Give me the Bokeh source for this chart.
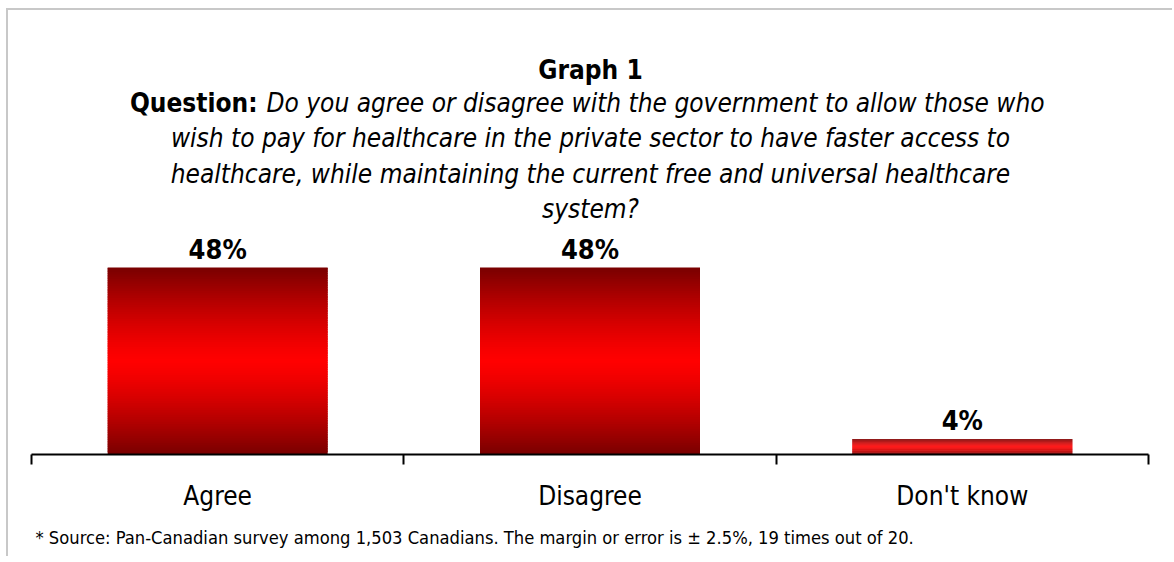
import numpy as np
from bokeh.plotting import figure
from bokeh.models import Range1d, LinearAxis, FixedTicker, Label, ColumnDataSource, Title
from bokeh.core.properties import value
from bokeh.embed import file_html
from bokeh.resources import INLINE

# ---------------- data ----------------
categories = ["Agree", "Disagree", "Don't know"]
percentages = [48, 48, 4]
value_labels = ["48%", "48%", "4%"]
title_text = "Graph 1"
question_label = "Question:"
question_lines = [
    "Do you agree or disagree with the government to allow those who",
    "wish to pay for healthcare in the private sector to have faster access to",
    "healthcare, while maintaining the current free and universal healthcare",
    "system?",
]
footnote = ("* Source: Pan-Canadian survey among 1,503 Canadians. "
            "The margin or error is \u00b1 2.5%, 19 times out of 20.")

# ---------------- layout helpers (page pixels -> data) ----------------
FONT = "DejaVu Sans Condensed, DejaVu Sans, sans-serif"
AX_LEFT = 31.0
AX_RIGHT = 1148.0
PX_PER_CAT = (AX_RIGHT - AX_LEFT) / len(categories)
AX_Y = 454.0
PX_PER_PCT = (AX_Y - 267.0) / 48.0
MARGIN_X, MARGIN_Y, BORDER = 6, 8, 2
CANVAS_X0, CANVAS_Y0 = MARGIN_X + BORDER, MARGIN_Y + BORDER
W, H = 1166, 548


def xd(px):
    return (px - AX_LEFT) / PX_PER_CAT


def yd(py):
    return (AX_Y - py) / PX_PER_PCT


frame_h = AX_Y - CANVAS_Y0
p = figure(width=W, height=H, output_backend="svg", toolbar_location=None,
           x_range=Range1d(xd(CANVAS_X0), xd(CANVAS_X0 + W)),
           y_range=Range1d(0, yd(CANVAS_Y0)),
           x_axis_type=None, y_axis_type=None,
           min_border_left=0, min_border_right=0, min_border_top=0,
           min_border_bottom=int(round(H - frame_h)))
p.outline_line_color = None
p.xgrid.visible = False
p.ygrid.visible = False
p.background_fill_color = "white"
p.border_fill_color = "white"
p.styles = {"margin-left": f"{MARGIN_X}px", "margin-top": f"{MARGIN_Y}px",
            "border-top": f"{BORDER}px solid #c8c8c8",
            "border-left": f"{BORDER}px solid #c8c8c8"}

# ---------------- gradient bars ----------------
centers = [i + 0.5 for i in range(len(categories))]
N = 80
dark = np.array([0x78, 0x00, 0x00], dtype=float)
bright = np.array([0xFF, 0x00, 0x00], dtype=float)
bx, bb, bt, bc = [], [], [], []
for c, v in zip(centers, percentages):
    for k in range(N):
        t = (k + 0.5) / N
        d = (abs(t - 0.5) / 0.5) ** 1.3
        col = bright * (1 - d) + dark * d
        bx.append(c)
        bb.append(v * k / N)
        bt.append(min(v, v * (k + 1.8) / N))
        bc.append("#%02x%02x%02x" % tuple(int(round(q)) for q in col))
src = ColumnDataSource(dict(x=bx, bottom=bb, top=bt, color=bc))
bar_w = 220.0 / PX_PER_CAT
p.vbar(x="x", bottom="bottom", top="top", width=bar_w, fill_color="color",
       line_color=None, source=src)

# value labels
lsrc = ColumnDataSource(dict(x=centers, y=percentages, t=value_labels))
p.text(x="x", y="y", text="t", source=lsrc, text_align="center",
       text_baseline="alphabetic", y_offset=-18,
       text_font=value(FONT), text_font_style="bold",
       text_font_size="27px", text_color="black")

# ---------------- axis ----------------
ax = LinearAxis(ticker=FixedTicker(ticks=centers, minor_ticks=list(range(len(categories) + 1))),
                bounds=(0, len(categories)))
ax.major_label_overrides = {c: cat for c, cat in zip(centers, categories)}
ax.axis_line_color = "black"
ax.axis_line_width = 2
ax.major_tick_line_color = None
ax.major_tick_out = 0
ax.major_tick_in = 0
ax.minor_tick_out = 10
ax.minor_tick_in = 0
ax.minor_tick_line_color = "black"
ax.minor_tick_line_width = 2
ax.major_label_text_font = FONT
ax.major_label_text_font_size = "26px"
ax.major_label_text_color = "black"
ax.major_label_standoff = 16
p.add_layout(ax, "below")

# footnote as a title below the axis
foot = Title(text=footnote, align="left", offset=35 - CANVAS_X0,
             text_font=FONT, text_font_size="18.2px", text_font_style="normal",
             text_color="black", standoff=22)
p.add_layout(foot, "below")

# ---------------- texts ----------------
p.add_layout(Label(x=xd(590), y=yd(69), text=title_text, text_align="center",
                   text_baseline="alphabetic", text_font=FONT,
                   text_font_style="bold", text_font_size="26px", text_color="black"))
p.add_layout(Label(x=xd(257), y=yd(102), text=question_label, text_align="right",
                   text_baseline="alphabetic", text_font=FONT,
                   text_font_style="bold", text_font_size="26px", text_color="black"))
p.add_layout(Label(x=xd(266), y=yd(102), text=question_lines[0], text_align="left",
                   text_baseline="alphabetic", text_font=FONT,
                   text_font_style="italic", text_font_size="26px", text_color="black"))
for line, base in zip(question_lines[1:], [137, 173, 208]):
    p.add_layout(Label(x=xd(590), y=yd(base), text=line, text_align="center",
                       text_baseline="alphabetic", text_font=FONT,
                       text_font_style="italic", text_font_size="26px", text_color="black"))

open("out.html", "w").write(file_html(p, INLINE))
